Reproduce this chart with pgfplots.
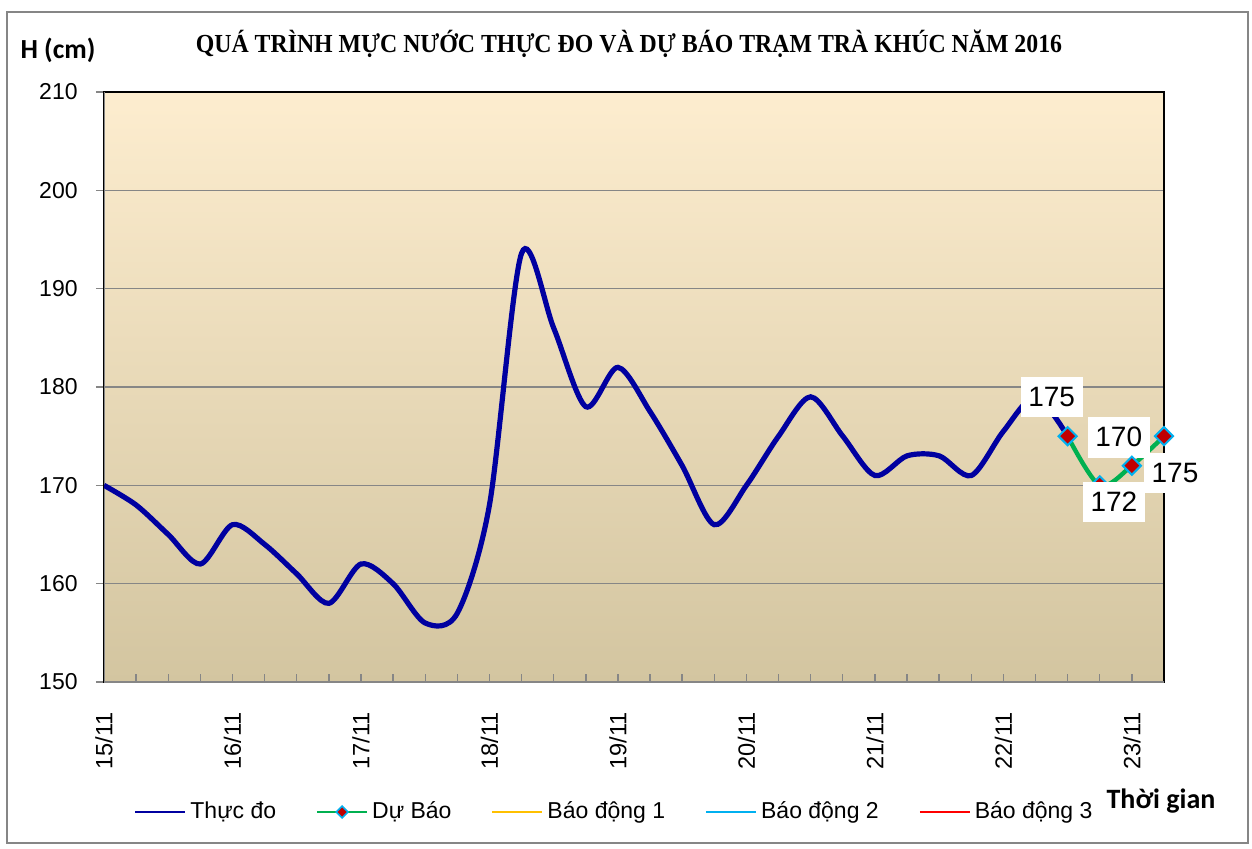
\documentclass[border=0pt]{standalone}
\usepackage{fontspec}
\setmainfont{Liberation Sans}
\newfontfamily\titlefont{Liberation Serif}
\newfontfamily\calfont{Carlito}
\usepackage{pgfplots}
\pgfplotsset{compat=1.18}
\usepackage{pgfplotstable}

\definecolor{obs}{RGB}{0,0,160}
\definecolor{fcst}{RGB}{0,176,80}
\definecolor{mkfill}{RGB}{192,0,0}
\definecolor{mkdraw}{RGB}{0,176,240}
\definecolor{bd1}{RGB}{255,192,0}
\definecolor{bd2}{RGB}{0,176,240}
\definecolor{bd3}{RGB}{255,0,0}
\definecolor{gridc}{RGB}{134,134,134}
\definecolor{bgtop}{RGB}{253,237,207}
\definecolor{bgmid}{RGB}{241,234,213}
\definecolor{bgbot}{RGB}{211,197,160}

% observed water level, 6-hourly from 15/11 00h
\pgfplotstableread{
x y
0 170
1 168
2 165
3 162
4 166
5 164
6 161
7 158
8 162
9 160
10 156
11 157
12 168
13 193.6
14 186
15 178
16 182
17 177.5
18 172
19 166
20 170
21 175
22 179
23 175
24 171
25 173
26 173
27 171
28 175.5
29 179
30 175
}\obsdata

% forecast, with label offsets (pt)
\pgfplotstableread{
x y dx dy
30 175 -8 19.5
31 170 9.5 24
32 172 -9 -18
33 175 5.5 -18.5
}\fcstdata

\begin{document}
\begin{tikzpicture}
\useasboundingbox (-52pt,-83pt) rectangle (574pt,341pt);
\draw[gridc, line width=0.9pt] (-48.5pt,-80.5pt) rectangle (572pt,335pt);

\begin{axis}[
    at={(0pt,0pt)}, anchor=south west,
    scale only axis,
    width=530pt, height=295pt,
    xmin=0, xmax=33,
    ymin=150, ymax=210,
    xtick={0,4,...,32},
    xticklabels={15/11,16/11,17/11,18/11,19/11,20/11,21/11,22/11,23/11},
    minor x tick num=3,
    ytick={150,160,...,210},
    xtick pos=bottom, ytick pos=left,
    xtick align=inside, ytick align=outside,
    major tick length=4pt, minor tick length=4pt,
    tick style={gridc, line width=0.7pt},
    ymajorgrids,
    major grid style={gridc, line width=0.7pt},
    axis line style={black, line width=0.9pt},
    axis background/.style={top color=bgtop, middle color=bgmid, bottom color=bgbot},
    /pgf/number format/assume math mode=true,
    tick label style={font=\fontsize{11.5}{13}\selectfont},
    yticklabel style={anchor=east, inner sep=0pt, xshift=-9pt},
    xticklabel style={rotate=90, anchor=east, inner sep=0pt, xshift=-15pt,
        font=\fontsize{11.8}{13}\selectfont},
    legend columns=5,
    legend cell align=left,
    legend style={at={(0.4825,-0.2203)}, anchor=center, draw=none, fill=none,
        font=\fontsize{11.5}{13}\selectfont,
        /tikz/every even column/.append style={column sep=18pt}},
    legend image code/.code={\draw[mark repeat=2, mark phase=2, #1]
        plot coordinates {(-2pt,0pt) (10.5pt,0pt) (23pt,0pt)};},
]
\draw[gridc, line width=1.2pt] (rel axis cs:0,1) -- (rel axis cs:0,0) -- (rel axis cs:1,0);

\addplot[obs, line width=2.6pt, smooth, forget plot] table[x=x, y=y] {\obsdata};

\addplot[fcst, line width=2.2pt, smooth, forget plot,
    mark=square*, mark size=3.2pt,
    mark options={solid, rotate=45, fill=mkfill, draw=mkdraw, line width=1pt},
    visualization depends on={\thisrow{dx} \as \dx},
    visualization depends on={\thisrow{dy} \as \dy},
    nodes near coords,
    every node near coord/.append style={anchor=center, xshift=\dx pt, yshift=\dy pt,
        fill=white, text=black, inner xsep=3.8pt, inner ysep=5.2pt,
        font=\fontsize{14}{16}\selectfont},
] table[x=x, y=y] {\fcstdata};

\addlegendimage{obs, line width=1pt}
\addlegendentry{Thực đo}
\addlegendimage{fcst, line width=1pt, mark=square*, mark size=2.1pt,
    mark options={rotate=45, fill=mkfill, draw=mkdraw, line width=0.8pt}}
\addlegendentry{Dự Báo}
\addlegendimage{bd1, line width=1pt}
\addlegendentry{Báo động 1}
\addlegendimage{bd2, line width=1pt}
\addlegendentry{Báo động 2}
\addlegendimage{bd3, line width=1pt}
\addlegendentry{Báo động 3}
\end{axis}

\node[font=\titlefont\bfseries\fontsize{13}{15}\selectfont] at (262.5pt,319pt)
    {\scalebox{0.916}[1]{QUÁ TRÌNH MỰC NƯỚC THỰC ĐO VÀ DỰ BÁO TRẠM TRÀ KHÚC NĂM 2016}};
\node[font=\calfont\bfseries\fontsize{13.8}{15}\selectfont] at (-23pt,316pt) {H (cm)};
\node[font=\calfont\bfseries\fontsize{14}{16}\selectfont] at (528.5pt,-59.5pt) {Thời gian};
\end{tikzpicture}
\end{document}
